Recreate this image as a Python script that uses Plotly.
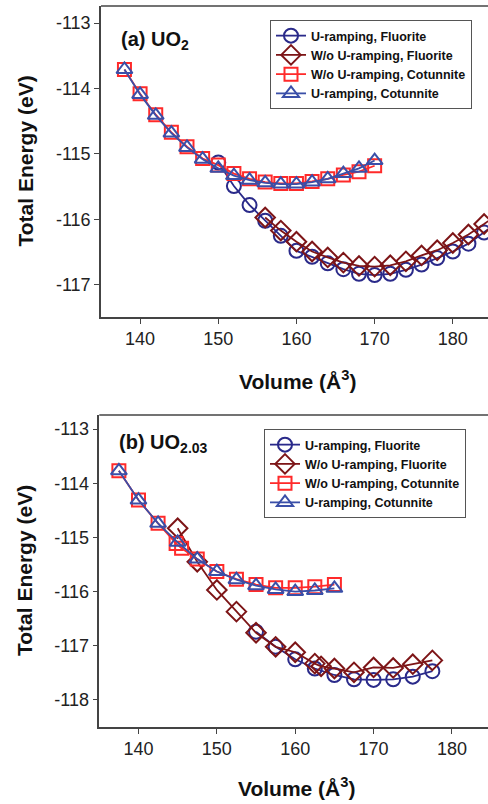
import plotly.graph_objects as go

W, H = 488, 804

# ---------------- data: panel (a) UO2 ----------------
a_flu_u_x = [150, 152, 154, 156, 158, 160, 162, 164, 166, 168, 170, 172, 174, 176, 178, 180, 182, 184, 186]
a_flu_u_y = [-115.13, -115.49, -115.78, -116.02, -116.25, -116.48, -116.57, -116.67, -116.76, -116.83,
             -116.85, -116.83, -116.77, -116.69, -116.59, -116.49, -116.37, -116.20, -116.02]

a_flu_w_x = [156, 158, 160, 162, 164, 166, 168, 170, 172, 174, 176, 178, 180, 182, 184, 186]
a_flu_w_y = [-115.97, -116.17, -116.34, -116.49, -116.58, -116.66, -116.71, -116.72, -116.70, -116.64,
             -116.55, -116.47, -116.36, -116.23, -116.07, -115.90]

a_cot_w_x = [138, 140, 142, 144, 146, 148, 150, 152, 154, 156, 158, 160, 162, 164, 166, 168, 170]
a_cot_w_y = [-113.71, -114.08, -114.40, -114.67, -114.89, -115.07, -115.17, -115.30, -115.38, -115.43,
             -115.45, -115.45, -115.42, -115.38, -115.32, -115.27, -115.18]

a_cot_u_x = [138, 140, 142, 144, 146, 148, 150, 152, 154, 156, 158, 160, 162, 164, 166, 168, 170]
a_cot_u_y = [-113.71, -114.09, -114.41, -114.68, -114.90, -115.08, -115.22, -115.33, -115.40, -115.44,
             -115.46, -115.46, -115.43, -115.38, -115.30, -115.22, -115.10]

# ---------------- data: panel (b) UO2.03 ----------------
b_flu_u_x = [155, 157.5, 160, 162.5, 165, 167.5, 170, 172.5, 175, 177.5]
b_flu_u_y = [-116.74, -117.02, -117.25, -117.42, -117.54, -117.62, -117.63, -117.62, -117.57, -117.47]

b_flu_w_x = [145, 147.5, 150, 152.5, 155, 157.5, 160, 162.5, 163.3, 165, 167.5, 170, 172.5, 175, 177.5]
b_flu_w_y = [-114.83, -115.45, -115.97, -116.37, -116.76, -117.02, -117.12, -117.33, -117.38, -117.42,
             -117.49, -117.40, -117.41, -117.34, -117.27]

b_cot_w_x = [137.5, 140, 142.5, 144.8, 145.5, 147.5, 150, 152.5, 155, 157.5, 160, 162.5, 165]
b_cot_w_y = [-113.77, -114.31, -114.74, -115.11, -115.20, -115.40, -115.63, -115.77, -115.87, -115.93,
             -115.93, -115.91, -115.87]

b_cot_u_x = [137.5, 140, 142.5, 145, 147.5, 150, 152.5, 155, 157.5, 160, 162.5, 165]
b_cot_u_y = [-113.77, -114.31, -114.74, -115.09, -115.40, -115.63, -115.78, -115.89, -115.96, -116.00,
             -115.98, -115.94]

names = ["U-ramping, Fluorite", "W/o U-ramping, Fluorite", "W/o U-ramping, Cotunnite", "U-ramping, Cotunnite"]
colors = ["#2a2a8a", "#7d1517", "#ff2a2a", "#3a4fa8"]
symbols = ["circle-open", "diamond-open", "square-open", "triangle-up-open"]
msizes = [14, 15, 13, 14]

x_ticks = [140, 150, 160, 170, 180]
ya_ticks = [-117, -116, -115, -114, -113]
ya_text = ["-117", "-116", "-115", "-114", "-113"]
yb_ticks = [-118, -117, -116, -115, -114, -113]
yb_text = ["-118", "-117", "-116", "-115", "-114", "-113"]

FONT = "Liberation Sans, Arial, sans-serif"

fig = go.Figure()

panels = [
    ([(a_flu_u_x, a_flu_u_y), (a_flu_w_x, a_flu_w_y), (a_cot_w_x, a_cot_w_y), (a_cot_u_x, a_cot_u_y)], "x", "y", "legend"),
    ([(b_flu_u_x, b_flu_u_y), (b_flu_w_x, b_flu_w_y), (b_cot_w_x, b_cot_w_y), (b_cot_u_x, b_cot_u_y)], "x2", "y2", "legend2"),
]

for series, xa, ya, leg in panels:
    for i, (xs, ys) in enumerate(series):
        fig.add_trace(go.Scatter(
            x=xs, y=ys, mode="lines+markers", name="<b>" + names[i] + "</b>",
            xaxis=xa, yaxis=ya, legend=leg, cliponaxis=True,
            line=dict(color=colors[i], width=1.8),
            marker=dict(symbol=symbols[i], size=msizes[i], color=colors[i],
                        line=dict(color=colors[i], width=2)),
        ))

axis_common = dict(showline=True, linecolor="#444", linewidth=1.5, ticks="outside", ticklen=5,
                   tickcolor="#444", tickwidth=1.2, showgrid=False, zeroline=False,
                   tickfont=dict(family=FONT, size=18, color="#222"), mirror=False)

fig.update_layout(
    width=W, height=H, margin=dict(l=0, r=0, t=0, b=0),
    paper_bgcolor="white", plot_bgcolor="white",
    xaxis=dict(domain=[101 / W, 1], range=[135, 184.5], tickvals=x_ticks, anchor="y", **axis_common),
    yaxis=dict(domain=[1 - 317 / H, 1 - 6 / H], range=[-117.49, -112.74], tickvals=ya_ticks,
               ticktext=ya_text, anchor="x", **axis_common),
    xaxis2=dict(domain=[99.3 / W, 1], range=[135, 184.6], tickvals=x_ticks, anchor="y2", **axis_common),
    yaxis2=dict(domain=[1 - 727 / H, 1 - 415 / H], range=[-118.5, -112.74], tickvals=yb_ticks,
                ticktext=yb_text, anchor="x2", **axis_common),
    legend=dict(x=270 / W, y=1 - 20 / H, xanchor="left", yanchor="top", bgcolor="white",
                bordercolor="#555", borderwidth=1, font=dict(family=FONT, size=12.5, color="#111"),
                tracegroupgap=0, itemwidth=30),
    legend2=dict(x=264 / W, y=1 - 429 / H, xanchor="left", yanchor="top", bgcolor="white",
                 bordercolor="#555", borderwidth=1, font=dict(family=FONT, size=12.5, color="#111"),
                 tracegroupgap=0, itemwidth=30),
    showlegend=True,
)

# top frame lines
for xa, ya in [("x", "y"), ("x2", "y2")]:
    fig.add_shape(type="line", xref=f"{xa} domain", yref=f"{ya} domain", x0=0, x1=1, y0=1, y1=1,
                  line=dict(color="#444", width=1.5))

ann = []
title_font = dict(family=FONT, size=21, color="#111")
# y titles
ann.append(dict(text="<b>Total Energy (eV)</b>", x=25 / W, y=1 - 161.5 / H, xref="paper", yref="paper",
                textangle=-90, showarrow=False, font=title_font, xanchor="center", yanchor="middle"))
ann.append(dict(text="<b>Total Energy (eV)</b>", x=24 / W, y=1 - 571 / H, xref="paper", yref="paper",
                textangle=-90, showarrow=False, font=title_font, xanchor="center", yanchor="middle"))
# x titles
ann.append(dict(text="<b>Volume (Å<sup>3</sup>)</b>", x=297 / W, y=1 - 380 / H, xref="paper", yref="paper",
                showarrow=False, font=title_font, xanchor="center", yanchor="middle"))
ann.append(dict(text="<b>Volume (Å<sup>3</sup>)</b>", x=296 / W, y=1 - 787 / H, xref="paper", yref="paper",
                showarrow=False, font=title_font, xanchor="center", yanchor="middle"))
# panel labels
ann.append(dict(text="<b>(a) UO<sub>2</sub></b>", x=119 / W, y=1 - 40 / H, xref="paper", yref="paper",
                showarrow=False, font=dict(family=FONT, size=20, color="#111"), xanchor="left", yanchor="middle"))
ann.append(dict(text="<b>(b) UO<sub>2.03</sub></b>", x=117 / W, y=1 - 443 / H, xref="paper", yref="paper",
                showarrow=False, font=dict(family=FONT, size=20, color="#111"), xanchor="left", yanchor="middle"))
fig.update_layout(annotations=ann)

fig.write_html("out.html")
